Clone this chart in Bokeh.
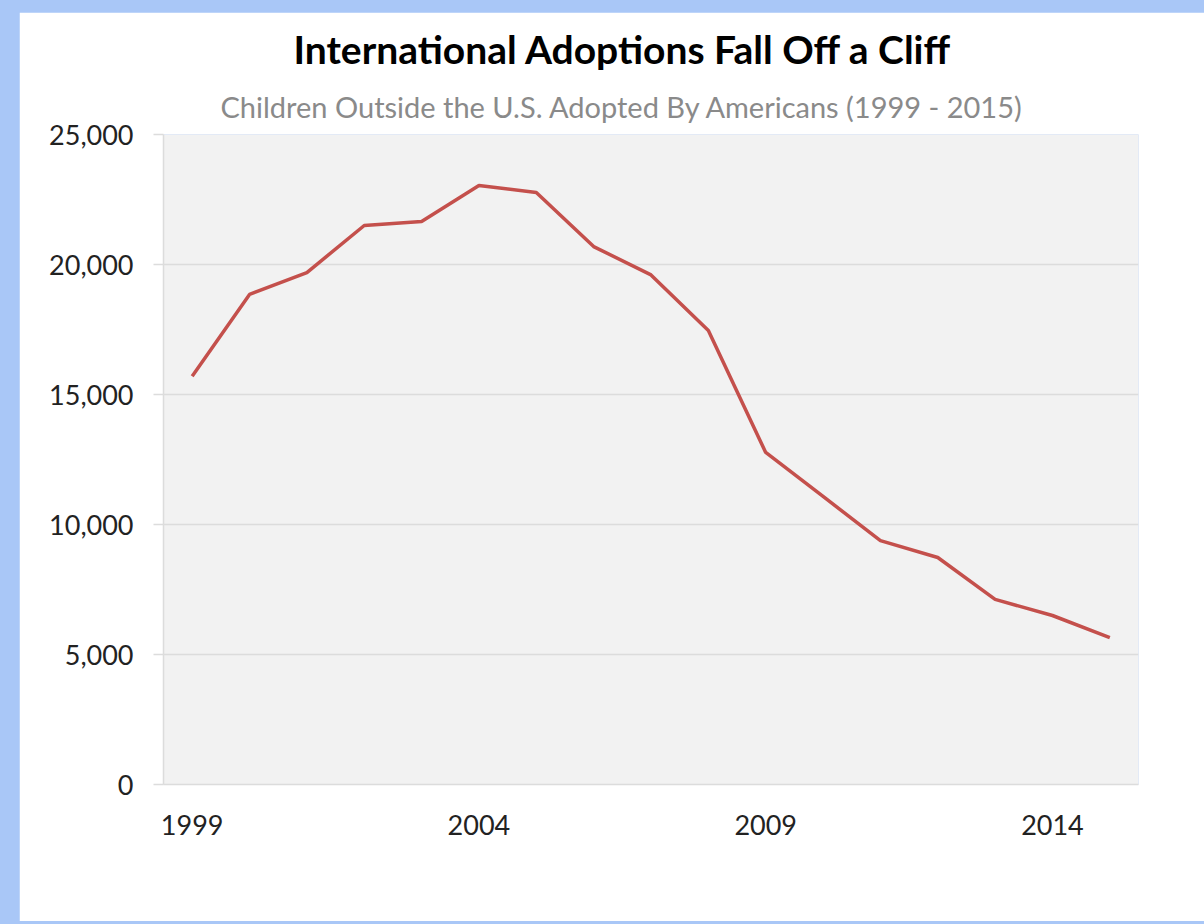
from bokeh.plotting import figure
from bokeh.models import Range1d, FixedTicker, NumeralTickFormatter, Title
from bokeh.layouts import column
from bokeh.embed import file_html
from bokeh.resources import INLINE

years = [1999, 2000, 2001, 2002, 2003, 2004, 2005, 2006, 2007, 2008,
         2009, 2010, 2011, 2012, 2013, 2014, 2015]
adoptions = [15700, 18850, 19690, 21500, 21650, 23040, 22770, 20690, 19600, 17460,
             12770, 11080, 9380, 8730, 7120, 6500, 5650]
x_ticks = [1999, 2004, 2009, 2014]
y_ticks = [0, 5000, 10000, 15000, 20000, 25000]

FONT = "Lato"

p = figure(width=1185, height=909, frame_width=975, frame_height=650,
           x_range=Range1d(1998.5, 2015.5), y_range=Range1d(0, 25000),
           output_backend="svg", toolbar_location=None,
           min_border_left=144, min_border_right=66, min_border_bottom=137,
           min_border_top=122)

p.add_layout(Title(text="Children Outside the U.S. Adopted By Americans (1999 - 2015)",
                   text_font=FONT, text_font_size="29px", text_font_style="normal",
                   text_color="#8a8a8a", align="left", offset=57, standoff=21), "above")
p.add_layout(Title(text="International Adoptions Fall Off a Cliff",
                   text_font=FONT, text_font_size="39px", text_font_style="bold",
                   text_color="#000000", align="left", offset=130, standoff=9), "above")

p.background_fill_color = "#f2f2f2"
p.border_fill_color = "#ffffff"
p.outline_line_color = None

p.line(years, adoptions, line_color="#c4504c", line_width=3.5)

p.xgrid.grid_line_color = None
p.ygrid.grid_line_color = "#dcdcdc"
p.ygrid.grid_line_width = 1.5

p.xaxis.ticker = FixedTicker(ticks=x_ticks)
p.yaxis.ticker = FixedTicker(ticks=y_ticks)
p.yaxis.formatter = NumeralTickFormatter(format="0,0")

for ax in (p.xaxis, p.yaxis):
    ax.axis_line_color = "#dcdcdc"
    ax.axis_line_width = 1.5
    ax.major_label_text_font = FONT
    ax.major_label_text_font_size = "27px"
    ax.major_label_text_color = "#222222"
    ax.minor_tick_line_color = None

p.yaxis.major_tick_line_color = "#dcdcdc"
p.yaxis.major_tick_line_width = 1.5
p.yaxis.major_tick_out = 10
p.yaxis.major_tick_in = 0
p.yaxis.major_label_standoff = 20

p.xaxis.major_tick_line_color = None
p.xaxis.major_tick_out = 0
p.xaxis.major_tick_in = 0
p.xaxis.major_label_standoff = 30

layout = column(p, styles={"background-color": "#a9c7f7",
                           "padding": "12px 0px 3px 19px"})

open("out.html", "w").write(file_html(layout, INLINE))
